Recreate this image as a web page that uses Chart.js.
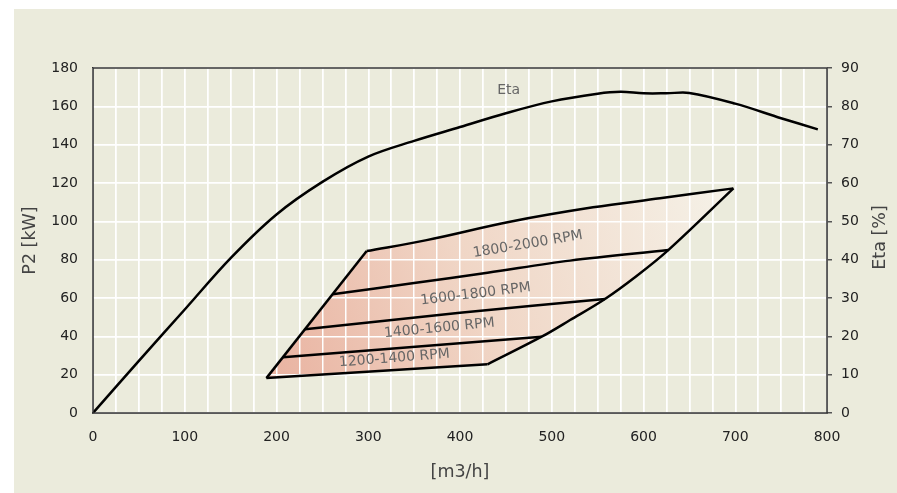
<!DOCTYPE html>
<html>
<head>
<meta charset="utf-8">
<script src="https://cdn.jsdelivr.net/npm/chart.js@4.4.1/dist/chart.umd.min.js"></script>
<style>
  body { margin: 0; background: #fff; }
  canvas { display: block; }
</style>
</head>
<body>
<canvas id="pumpChart" width="897" height="493"></canvas>
<script>
// Eta curve (right axis, %)
const etaFlow = [0, 50, 100, 150, 200, 250, 300, 350, 400, 450, 500, 550, 575, 600, 625, 650, 700, 750, 790];
const etaValues = [0, 13.6, 27, 40.4, 51.8, 60.3, 66.9, 71, 74.6, 78.2, 81.3, 83.3, 83.8, 83.4, 83.4, 83.5, 80.7, 76.9, 74];

// Operating region (P2 kW), outline pieces
const bottomFlow = [189, 430];
const bottomP2 = [18.2, 25.4];
const rightFlow = [430, 489, 520, 558, 592.5, 627, 698];
const rightP2 = [25.4, 39.8, 48.5, 59.5, 71.5, 85, 117.2];
const topFlow = [698, 618, 545, 454.5, 363.6, 298.3];
const topP2 = [117.2, 112, 107.3, 99.8, 90.2, 84.5];
const leftFlow = [298.3, 189];
const leftP2 = [84.5, 18.2];

// speed separation lines
const rpm1400Flow = [207, 489];
const rpm1400P2 = [29.1, 39.8];
const rpm1600Flow = [231, 400, 558];
const rpm1600P2 = [43.7, 52.3, 59.5];
const rpm1800Flow = [261, 350, 430, 520, 627];
const rpm1800P2 = [61.9, 67.8, 73.2, 79.5, 85];

const xTicks = [0, 100, 200, 300, 400, 500, 600, 700, 800];

const curveLabels = [
    { text: 'Eta', x: 453, y: 168.5, angle: 0 },
    { text: '1800-2000 RPM', x: 474, y: 88, angle: -9.5 },
    { text: '1600-1800 RPM', x: 417, y: 62, angle: -7 },
    { text: '1400-1600 RPM', x: 377.5, y: 44.2, angle: -5.5 },
    { text: '1200-1400 RPM', x: 328.4, y: 28.5, angle: -4.5 }
];

const FONT = "'DejaVu Sans', Verdana, sans-serif";

function points(xs, ys) {
    return xs.map((x, i) => ({ x: x, y: ys[i] }));
}

const regionPoints = [
    ...points(bottomFlow, bottomP2),
    ...points(rightFlow, rightP2).slice(1),
    ...points(topFlow, topP2).slice(1),
    ...points(leftFlow, leftP2).slice(1)
];

function regionGradient(context) {
    const chart = context.chart;
    if (!chart.chartArea) return 'rgba(0,0,0,0)';
    const x = chart.scales.x;
    const y = chart.scales.y;
    const g = chart.ctx.createLinearGradient(
        x.getPixelForValue(bottomFlow[0]), y.getPixelForValue(bottomP2[0]),
        x.getPixelForValue(topFlow[0]), y.getPixelForValue(topP2[0]));
    g.addColorStop(0, '#E9B2A0');
    g.addColorStop(0.45, '#F0D6C6');
    g.addColorStop(1, '#F5F2E8');
    return g;
}

const backgroundPlugin = {
    id: 'background',
    beforeDraw(chart) {
        const ctx = chart.ctx;
        ctx.save();
        ctx.fillStyle = '#ffffff';
        ctx.fillRect(0, 0, chart.width, chart.height);
        ctx.fillStyle = '#EBEBDC';
        ctx.fillRect(14, 9, chart.width - 14, chart.height - 9);
        ctx.restore();
    }
};

// grid is drawn again on top of the region fill, like in the original
const gridOverFill = {
    id: 'gridOverFill',
    afterDatasetDraw(chart, args) {
        if (chart.data.datasets[args.index].label !== 'region') return;
        chart.scales.x.drawGrid(chart.chartArea);
        chart.scales.y.drawGrid(chart.chartArea);
    }
};

const textPlugin = {
    id: 'texts',
    afterDatasetsDraw(chart) {
        const ctx = chart.ctx;
        const a = chart.chartArea;
        ctx.save();
        ctx.strokeStyle = '#333';
        ctx.lineWidth = 1.5;
        ctx.strokeRect(a.left, a.top, a.right - a.left, a.bottom - a.top);

        ctx.fillStyle = '#666';
        ctx.font = '14px ' + FONT;
        ctx.textAlign = 'center';
        ctx.textBaseline = 'middle';
        curveLabels.forEach(l => {
            ctx.save();
            ctx.translate(chart.scales.x.getPixelForValue(l.x), chart.scales.y.getPixelForValue(l.y));
            ctx.rotate(l.angle * Math.PI / 180);
            ctx.fillText(l.text, 0, 0);
            ctx.restore();
        });

        // right axis title reads bottom to top
        ctx.fillStyle = '#444';
        ctx.font = '17.5px ' + FONT;
        ctx.translate(880, (a.top + a.bottom) / 2 - 3);
        ctx.rotate(-Math.PI / 2);
        ctx.fillText('Eta [%]', 0, 0);
        ctx.restore();
    }
};

const lineStyle = {
    type: 'scatter',
    showLine: true,
    borderColor: '#000',
    borderWidth: 2.5,
    pointRadius: 0,
    tension: 0,
    fill: false,
    order: 0
};

new Chart(document.getElementById('pumpChart'), {
    type: 'scatter',
    data: {
        datasets: [
            { ...lineStyle, label: 'Eta', data: points(etaFlow, etaValues), yAxisID: 'y2', tension: 0.35 },
            { ...lineStyle, label: 'bottom', data: points(bottomFlow, bottomP2) },
            { ...lineStyle, label: 'right', data: points(rightFlow, rightP2), tension: 0.35 },
            { ...lineStyle, label: 'top', data: points(topFlow, topP2), tension: 0.35 },
            { ...lineStyle, label: 'left', data: points(leftFlow, leftP2) },
            { ...lineStyle, label: '1400', data: points(rpm1400Flow, rpm1400P2) },
            { ...lineStyle, label: '1600', data: points(rpm1600Flow, rpm1600P2), tension: 0.35 },
            { ...lineStyle, label: '1800', data: points(rpm1800Flow, rpm1800P2), tension: 0.35 },
            {
                type: 'scatter', label: 'region', data: regionPoints, showLine: true,
                borderWidth: 0, pointRadius: 0, tension: 0,
                backgroundColor: regionGradient, fill: 'shape', order: 1
            }
        ]
    },
    options: {
        responsive: false,
        animation: false,
        events: [],
        layout: { padding: { top: 68, left: 0, right: 0, bottom: 0 } },
        plugins: { legend: { display: false }, tooltip: { enabled: false } },
        scales: {
            x: {
                type: 'linear', position: 'bottom', min: 0, max: 800,
                afterFit: s => { s.height = 80; },
                afterBuildTicks: s => {
                    const t = [];
                    for (let v = 0; v <= 800; v += 25) t.push({ value: v });
                    s.ticks = t;
                },
                ticks: {
                    autoSkip: false, maxRotation: 0, padding: 16, color: '#222',
                    font: { family: FONT, size: 14 },
                    callback: v => xTicks.includes(v) ? String(v) : ''
                },
                grid: { color: '#ffffff', lineWidth: 1.5, drawTicks: false },
                border: { color: '#333', width: 1.5 },
                title: {
                    display: true, text: '[m3/h]', color: '#444',
                    font: { family: FONT, size: 17.5 }, padding: { top: 0, bottom: 10.5 }
                }
            },
            y: {
                position: 'left', min: 0, max: 180,
                afterFit: s => { s.width = 93; },
                ticks: { stepSize: 20, padding: 15, color: '#222', font: { family: FONT, size: 14 } },
                grid: { color: '#ffffff', lineWidth: 1.5, drawTicks: false },
                border: { color: '#333', width: 1.5 },
                title: {
                    display: true, text: 'P2 [kW]', color: '#444',
                    font: { family: FONT, size: 17.5 }, padding: { top: 19.5, bottom: 0 }
                }
            },
            y2: {
                position: 'right', min: 0, max: 90,
                afterFit: s => { s.width = 70; },
                ticks: { stepSize: 10, padding: 9, color: '#222', font: { family: FONT, size: 14 } },
                grid: { drawOnChartArea: false, tickLength: 5, tickColor: '#555', lineWidth: 1.5 },
                border: { color: '#333', width: 1.5 }
            }
        }
    },
    plugins: [backgroundPlugin, gridOverFill, textPlugin]
});
</script>
</body>
</html>
